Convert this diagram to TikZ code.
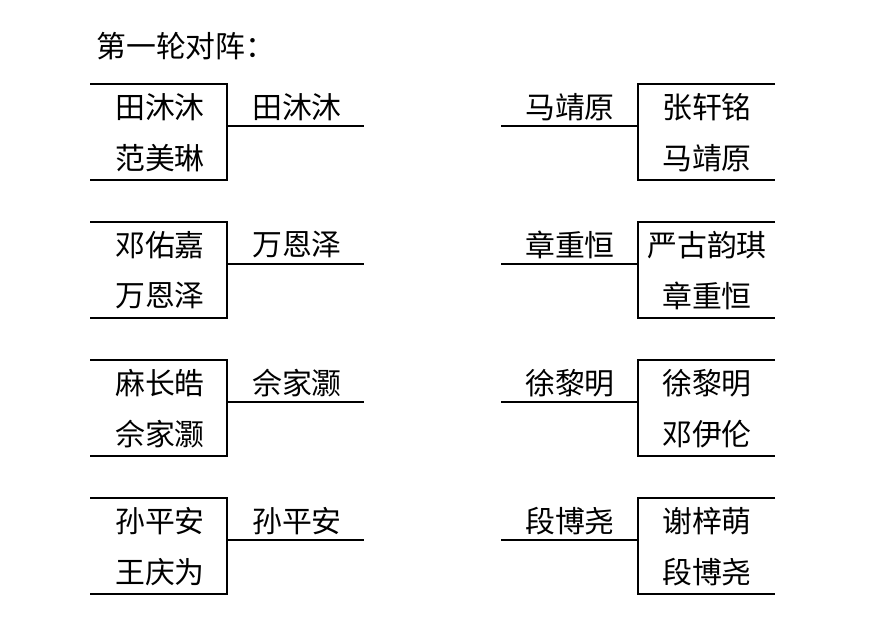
\documentclass[tikz,border=0pt]{standalone}
\usepackage{fontspec}
\setmainfont{Noto Sans CJK SC}
\usetikzlibrary{positioning,calc}
\def\groupdist{138}

\begin{document}
\begin{tikzpicture}[x=0.02cm, y=-0.02cm, player/.style={font=\fontsize{17}{20}\selectfont, inner sep=0pt}, bline/.style={line width=0.6pt}]
\useasboundingbox (0,0) rectangle (882,636);

\node[player, anchor=west] (title) at (96,46) {第一轮对阵：};

% left half
\foreach \i/\a/\b/\w in {0/田沐沐/范美琳/田沐沐, 1/邓佑嘉/万恩泽/万恩泽, 2/麻长皓/佘家灏/佘家灏, 3/孙平安/王庆为/孙平安} {
  \coordinate (LT\i) at (90,84+\i*\groupdist);
  \coordinate (LC\i) at (227,84+\i*\groupdist);
  \coordinate (LD\i) at (227,180+\i*\groupdist);
  \coordinate (LB\i) at (90,180+\i*\groupdist);
  \coordinate (LM\i) at (227,126+\i*\groupdist);
  \coordinate (LE\i) at (364,126+\i*\groupdist);
  \draw[bline] (LT\i) -- (LC\i) -- (LD\i) -- (LB\i);
  \draw[bline] (LM\i) -- (LE\i);
  \node[player] (la\i) at (160,107+\i*\groupdist) {\a};
  \node[player] (lb\i) at (160,158+\i*\groupdist) {\b};
  \node[player] (lw\i) at (297,107+\i*\groupdist) {\w};
}

% right half
\foreach \i/\a/\b/\w in {0/张轩铭/马靖原/马靖原, 1/严古韵琪/章重恒/章重恒, 2/徐黎明/邓伊伦/徐黎明, 3/谢梓萌/段博尧/段博尧} {
  \coordinate (RT\i) at (775,84+\i*\groupdist);
  \coordinate (RC\i) at (638,84+\i*\groupdist);
  \coordinate (RD\i) at (638,180+\i*\groupdist);
  \coordinate (RB\i) at (775,180+\i*\groupdist);
  \coordinate (RM\i) at (638,126+\i*\groupdist);
  \coordinate (RE\i) at (501,126+\i*\groupdist);
  \draw[bline] (RT\i) -- (RC\i) -- (RD\i) -- (RB\i);
  \draw[bline] (RM\i) -- (RE\i);
  \node[player] (ra\i) at (707,107+\i*\groupdist) {\a};
  \node[player] (rb\i) at (707,158+\i*\groupdist) {\b};
  \node[player] (rw\i) at (570,107+\i*\groupdist) {\w};
}
\end{tikzpicture}
\end{document}
